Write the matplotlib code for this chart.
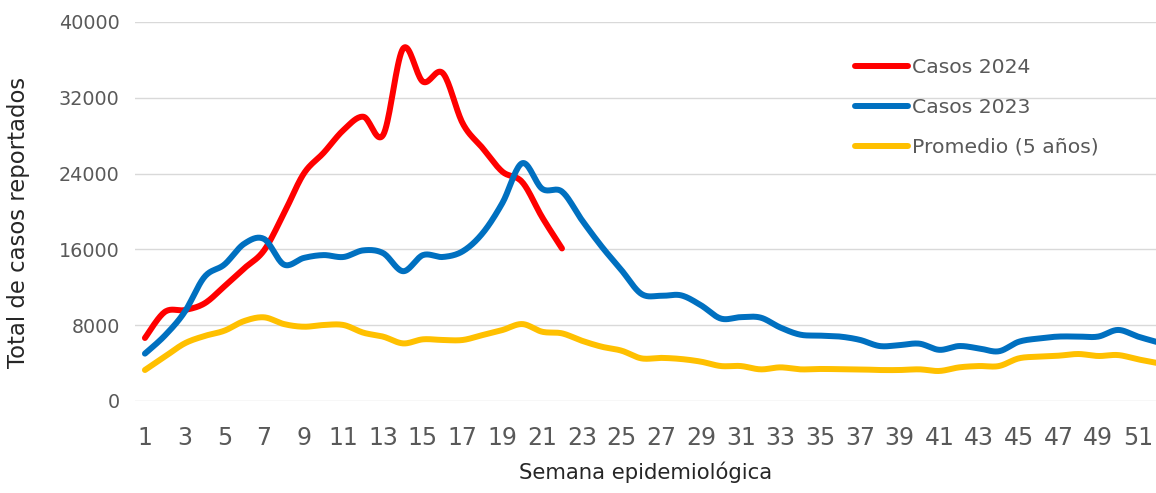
import numpy as np
import matplotlib
matplotlib.use("Agg")
import matplotlib.pyplot as plt

# Datos por semana epidemiológica
semanas = list(range(1, 53))
casos_2024 = [6650, 9400, 9600, 10300, 12100, 14000, 15900, 19800, 24000, 26200,
              28600, 30000, 28100, 37200, 33700, 34600, 29300, 26700, 24200, 23100,
              19400, 16100]
casos_2023 = [5000, 6900, 9400, 13100, 14400, 16600, 17100, 14400, 15100, 15400,
              15200, 15900, 15600, 13700, 15400, 15200, 15800, 17700, 20900, 25100,
              22400, 22100, 19100, 16300, 13800, 11300, 11100, 11150, 10100, 8700,
              8850, 8800, 7750, 7000, 6900, 6800, 6450, 5800, 5900, 6050,
              5400, 5800, 5550, 5250, 6250, 6600, 6800, 6800, 6800, 7500,
              6800, 6200]
promedio = [3270, 4680, 6080, 6860, 7420, 8440, 8830, 8120, 7840, 8020,
            8020, 7210, 6790, 6080, 6510, 6440, 6440, 6960, 7490, 8120,
            7310, 7140, 6360, 5730, 5310, 4500, 4550, 4430, 4150, 3690,
            3690, 3340, 3550, 3340, 3380, 3360, 3340, 3270, 3270, 3340,
            3170, 3550, 3690, 3690, 4500, 4680, 4780, 4960, 4750, 4850,
            4400, 4000]

series = [
    ("Casos 2024", casos_2024, "#FF0000"),
    ("Casos 2023", casos_2023, "#0070C0"),
    ("Promedio (5 años)", promedio, "#FFC000"),
]


def smooth(x, y, n=20):
    # Excel-style smoothed line (Catmull-Rom / Bezier)
    x = np.asarray(x, float)
    y = np.asarray(y, float)
    px = np.concatenate([[x[0]], x, [x[-1]]])
    py = np.concatenate([[y[0]], y, [y[-1]]])
    t = np.linspace(0, 1, n)[:, None]
    xs, ys = [], []
    for i in range(1, len(px) - 2):
        p0 = np.array([px[i], py[i]])
        p3 = np.array([px[i + 1], py[i + 1]])
        c1 = p0 + (p3 - np.array([px[i - 1], py[i - 1]])) / 6
        c2 = p3 - (np.array([px[i + 2], py[i + 2]]) - p0) / 6
        b = ((1 - t) ** 3) * p0 + 3 * ((1 - t) ** 2) * t * c1 + 3 * (1 - t) * t ** 2 * c2 + t ** 3 * p3
        xs.append(b[:, 0])
        ys.append(b[:, 1])
    return np.concatenate(xs), np.concatenate(ys)


plt.rcParams['font.family'] = ['DejaVu Sans']

fig = plt.figure(figsize=(11.56, 4.93), dpi=100)
ax = fig.add_axes([135 / 1156, 1 - 401 / 493, 1 - 135 / 1156, (401 - 22) / 493])

for label, vals, color in series:
    sx, sy = smooth(semanas[:len(vals)], vals)
    ax.plot(sx, sy, color=color, linewidth=4.3, solid_capstyle='round',
            solid_joinstyle='round', label=label, zorder=3)

ax.set_xlim(0.5, 51.91)
ax.set_ylim(0, 40000)
ax.set_yticks(range(0, 40001, 8000))
ax.set_xticks(semanas[::2])
ax.grid(axis='y', color='#D9D9D9', linewidth=1.0, zorder=0)
ax.set_axisbelow(True)
for s in ax.spines.values():
    s.set_visible(False)
ax.tick_params(axis='both', length=0, colors='#595959')
ax.tick_params(axis='y', labelsize=13.8, pad=11)
ax.tick_params(axis='x', labelsize=17, pad=18)

ax.set_xlabel('Semana epidemiológica', fontsize=15.3, color='#262626', labelpad=8)
ax.set_ylabel('Total de casos reportados', fontsize=16.4, color='#262626')
ax.yaxis.set_label_coords((30 - 135) / 1021, 0.47)

leg = ax.legend(loc='upper left', bbox_to_anchor=((855 - 135) / 1021, (401 - 58) / 379),
                frameon=False, fontsize=14.7, handlelength=2.6, handletextpad=0.2,
                labelspacing=1.02, borderpad=0, borderaxespad=0)
for t in leg.get_texts():
    t.set_color('#595959')

plt.savefig('out.png', dpi=100)
plt.close()
